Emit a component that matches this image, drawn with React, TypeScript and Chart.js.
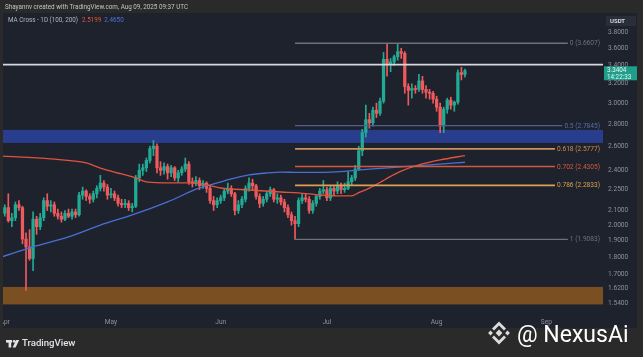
import React, { useEffect, useRef } from "react";
import { Chart, registerables } from "chart.js";
Chart.register(...registerables);

// day index: 0 = Mar 31 2025, 1 = Apr 1 ... 131 = Aug 9
const FIRST_DAY = 1;
const opens = [
  2.08, 2.12, 2.03, 2.05, 2.14, 2.12, 1.91, 1.86, 1.79, 2.04, 1.99, 2.05, 2.17, 2.13, 2.14, 2.08, 2.06, 2.04, 2.08, 2.06, 2.09, 2.07, 2.21, 2.24, 2.20, 2.18, 2.22, 2.26, 2.30, 2.27,
  2.21, 2.22, 2.19, 2.15, 2.14, 2.15, 2.12, 2.13, 2.34, 2.40, 2.42, 2.48, 2.58, 2.60, 2.42, 2.40, 2.43, 2.38, 2.42, 2.34, 2.38, 2.41, 2.45, 2.31, 2.30, 2.32, 2.28, 2.30, 2.26, 2.17,
  2.14, 2.17, 2.19, 2.24, 2.26, 2.22, 2.10, 2.14, 2.18, 2.26, 2.30, 2.28, 2.20, 2.15, 2.18, 2.22, 2.25, 2.18, 2.19, 2.16, 2.12, 2.07, 2.03, 2.01, 2.17, 2.19, 2.18, 2.10, 2.15, 2.20,
  2.24, 2.25, 2.19, 2.26, 2.24, 2.28, 2.25, 2.26, 2.31, 2.34, 2.41, 2.56, 2.72, 2.84, 2.81, 2.93, 2.90, 3.02, 3.47, 3.41, 3.44, 3.50, 3.56, 3.54, 3.17, 3.13, 3.15, 3.14, 3.23, 3.14,
  3.11, 3.10, 3.04, 2.96, 2.78, 2.94, 3.03, 2.98, 3.01, 3.32, 3.30,
];
const highs = [
  2.14, 2.22, 2.08, 2.16, 2.17, 2.13, 1.95, 1.97, 2.09, 2.06, 2.08, 2.19, 2.22, 2.17, 2.16, 2.11, 2.09, 2.10, 2.11, 2.11, 2.11, 2.23, 2.27, 2.25, 2.22, 2.24, 2.28, 2.36, 2.32, 2.29,
  2.26, 2.24, 2.21, 2.18, 2.18, 2.17, 2.15, 2.36, 2.45, 2.45, 2.50, 2.60, 2.65, 2.62, 2.47, 2.46, 2.45, 2.44, 2.43, 2.40, 2.43, 2.50, 2.47, 2.34, 2.35, 2.34, 2.32, 2.31, 2.28, 2.20,
  2.19, 2.21, 2.26, 2.30, 2.28, 2.23, 2.17, 2.20, 2.28, 2.34, 2.33, 2.29, 2.22, 2.20, 2.24, 2.27, 2.26, 2.22, 2.21, 2.18, 2.14, 2.09, 2.06, 2.19, 2.22, 2.22, 2.20, 2.17, 2.21, 2.26,
  2.32, 2.27, 2.28, 2.28, 2.31, 2.30, 2.30, 2.39, 2.36, 2.44, 2.60, 2.75, 2.98, 2.90, 2.96, 3.00, 3.05, 3.55, 3.6607, 3.48, 3.52, 3.65, 3.60, 3.56, 3.20, 3.20, 3.18, 3.30, 3.28, 3.18,
  3.14, 3.12, 3.07, 3.00, 2.96, 3.05, 3.06, 3.02, 3.35, 3.38, 3.36,
];
const lows = [
  2.06, 2.02, 1.99, 2.03, 2.10, 1.88, 1.61, 1.78, 1.72, 1.94, 1.97, 2.03, 2.10, 2.09, 2.06, 2.04, 2.02, 2.03, 2.05, 2.04, 2.05, 2.06, 2.18, 2.17, 2.15, 2.16, 2.19, 2.24, 2.24, 2.18,
  2.19, 2.17, 2.13, 2.12, 2.12, 2.10, 2.09, 2.12, 2.31, 2.36, 2.39, 2.46, 2.52, 2.38, 2.36, 2.37, 2.33, 2.35, 2.32, 2.31, 2.36, 2.39, 2.29, 2.27, 2.28, 2.25, 2.26, 2.23, 2.15, 2.10,
  2.12, 2.15, 2.17, 2.22, 2.20, 2.07, 2.08, 2.12, 2.16, 2.24, 2.25, 2.18, 2.12, 2.13, 2.16, 2.20, 2.16, 2.15, 2.14, 2.09, 2.05, 2.00, 1.9083, 1.99, 2.15, 2.16, 2.08, 2.08, 2.13, 2.18,
  2.22, 2.17, 2.17, 2.21, 2.22, 2.22, 2.23, 2.25, 2.28, 2.32, 2.40, 2.52, 2.68, 2.76, 2.78, 2.86, 2.88, 3.00, 3.28, 3.33, 3.40, 3.46, 3.48, 3.10, 2.98, 3.05, 3.10, 3.12, 3.10, 3.05,
  3.04, 3.00, 2.92, 2.72, 2.72, 2.90, 2.94, 2.92, 2.99, 3.24, 3.27,
];
const closes = [
  2.12, 2.03, 2.05, 2.14, 2.12, 1.91, 1.86, 1.79, 2.04, 1.99, 2.05, 2.17, 2.13, 2.14, 2.08, 2.06, 2.04, 2.08, 2.06, 2.09, 2.07, 2.21, 2.24, 2.20, 2.18, 2.22, 2.26, 2.30, 2.27, 2.21,
  2.22, 2.19, 2.15, 2.14, 2.15, 2.12, 2.13, 2.34, 2.40, 2.42, 2.48, 2.58, 2.60, 2.42, 2.40, 2.43, 2.38, 2.42, 2.34, 2.38, 2.41, 2.45, 2.31, 2.30, 2.32, 2.28, 2.30, 2.26, 2.17, 2.14,
  2.17, 2.19, 2.24, 2.26, 2.22, 2.10, 2.14, 2.18, 2.26, 2.30, 2.28, 2.20, 2.15, 2.18, 2.22, 2.25, 2.18, 2.19, 2.16, 2.12, 2.07, 2.03, 2.01, 2.17, 2.19, 2.18, 2.10, 2.15, 2.20, 2.24,
  2.25, 2.19, 2.26, 2.24, 2.28, 2.25, 2.26, 2.31, 2.34, 2.41, 2.56, 2.72, 2.84, 2.81, 2.93, 2.90, 3.02, 3.47, 3.41, 3.44, 3.50, 3.56, 3.54, 3.17, 3.13, 3.15, 3.14, 3.23, 3.14, 3.11,
  3.10, 3.04, 2.96, 2.78, 2.94, 3.03, 2.98, 3.01, 3.32, 3.30, 3.3404,
];

const maRedDays = [0, 14, 24, 28, 34, 38, 41, 48, 53, 58, 62, 70, 79, 84, 90, 96, 99, 101, 104, 107, 110, 113, 118, 124, 131];
const maRedValues = [2.517, 2.492, 2.459, 2.418, 2.371, 2.34, 2.309, 2.301, 2.301, 2.286, 2.263, 2.248, 2.233, 2.226, 2.211, 2.204, 2.204, 2.228, 2.262, 2.305, 2.352, 2.394, 2.443, 2.484, 2.5199];
const maBlueDays = [0, 9, 19, 28, 37, 47, 56, 61, 65, 70, 75, 79, 84, 93, 104, 113, 121, 131];
const maBlueValues = [1.799, 1.861, 1.923, 2.001, 2.069, 2.161, 2.263, 2.301, 2.332, 2.363, 2.379, 2.386, 2.383, 2.386, 2.41, 2.427, 2.443, 2.465];

const monthTickDays = [1, 31, 62, 92, 123, 154];
const monthTickLabels = ["Apr", "May", "Jun", "Jul", "Aug", "Sep"];
const priceTicks = [3.8, 3.6, 3.4, 3.2, 3.0, 2.8, 2.6, 2.4, 2.25, 2.1, 2.0, 1.9, 1.8, 1.7, 1.62, 1.54];

const fibStartDay = 83;
const fibLevels = ["0", "0.5", "0.618", "0.702", "0.786", "1"];
const fibPrices = [3.6607, 2.7845, 2.5777, 2.4305, 2.2833, 1.9083];
const fibColors = ["#6e717a", "#4f5f8f", "#c8935e", "#cf5a3f", "#dda052", "#6e717a"];
const fibLabelColors = ["#6e717a", "#5a6ea8", "#d48c4a", "#d65a3c", "#dca04e", "#6e717a"];

const resistancePrice = 3.41;
const blueZone = [2.628, 2.745];
const orangeZone = [1.537, 1.629];
const lastPrice = 3.3404;
const countdown = "14:22:33";

const UP = "#22ab94";
const DOWN = "#ef5a5c";
const FONT = "Roboto, 'Noto Sans', sans-serif";

export default function App() {
  const ref = useRef<HTMLCanvasElement | null>(null);
  useEffect(() => {
    const canvas = ref.current!;
    const colors = closes.map((c, i) => (c >= opens[i] ? UP : DOWN));

    const tvPlugin = {
      id: "tvdecor",
      beforeDraw(chart: any) {
        const ctx = chart.ctx;
        ctx.save();
        ctx.fillStyle = "#2a2a2b";
        ctx.fillRect(0, 0, 643, 357);
        ctx.fillStyle = "#1e222d";
        ctx.fillRect(3, 13, 634, 315);
        ctx.restore();
      },
      beforeDatasetsDraw(chart: any) {
        const { ctx, chartArea, scales } = chart;
        const y = scales.y;
        ctx.save();
        const zone = (z: number[], col: string) => {
          const t = y.getPixelForValue(z[1]);
          const b = y.getPixelForValue(z[0]);
          ctx.fillStyle = col;
          ctx.fillRect(chartArea.left, t, chartArea.right - chartArea.left, b - t);
        };
        zone(blueZone, "#283d8b");
        zone(orangeZone, "#7a4f22");
        ctx.restore();
      },
      afterDatasetsDraw(chart: any) {
        const { ctx, chartArea, scales } = chart;
        const x = scales.x, y = scales.y;
        ctx.save();
        const ry = y.getPixelForValue(resistancePrice);
        ctx.strokeStyle = "#d6d8dd";
        ctx.lineWidth = 1.6;
        ctx.beginPath();
        ctx.moveTo(chartArea.left, ry);
        ctx.lineTo(chartArea.right, ry);
        ctx.stroke();
        ctx.font = `6.6px ${FONT}`;
        ctx.textBaseline = "middle";
        ctx.textAlign = "left";
        const x0 = x.getPixelForValue(fibStartDay);
        fibPrices.forEach((p, i) => {
          const py = y.getPixelForValue(p);
          const label = `${fibLevels[i]} (${p.toFixed(4)})`;
          const w = ctx.measureText(label).width;
          const lx = 600 - w;
          ctx.strokeStyle = fibColors[i];
          ctx.lineWidth = i === 0 || i === 5 || i === 1 ? 1.3 : 1.7;
          ctx.beginPath();
          ctx.moveTo(x0, py);
          ctx.lineTo(lx - 2, py);
          ctx.stroke();
          ctx.fillStyle = fibLabelColors[i];
          ctx.fillText(label, lx, py + 0.5);
        });
        ctx.restore();
      },
      afterDraw(chart: any) {
        const { ctx, scales } = chart;
        const y = scales.y;
        ctx.save();
        ctx.fillStyle = "#2a2a2b";
        ctx.fillRect(0, 13, 3, 315);
        ctx.textBaseline = "middle";
        ctx.textAlign = "left";
        ctx.font = `6.3px ${FONT}`;
        ctx.fillStyle = "#c4c4c6";
        ctx.fillText("Shayannv created with TradingView.com, Aug 09, 2025 09:37 UTC", 5, 7);
        ctx.font = `6.3px ${FONT}`;
        ctx.fillStyle = "#b3b6be";
        const lg = "MA Cross - 1D (100, 200)";
        ctx.fillText(lg, 8, 20);
        let lx = 8 + ctx.measureText(lg).width + 4;
        ctx.fillStyle = "#e5533c";
        ctx.fillText(maRedValues[maRedValues.length - 1].toFixed(4), lx, 20);
        lx += ctx.measureText("2.5199").width + 3;
        ctx.fillStyle = "#4d72d9";
        ctx.fillText(maBlueValues[maBlueValues.length - 1].toFixed(4), lx, 20);
        ctx.fillStyle = "#2a2e39";
        ctx.fillRect(606, 16, 30, 10);
        ctx.fillStyle = "#d1d4dc";
        ctx.font = `bold 6px ${FONT}`;
        ctx.fillText("USDT", 610, 21);
        const py = y.getPixelForValue(lastPrice);
        ctx.fillStyle = "#1f9e8a";
        ctx.fillRect(604, py - 4.5, 33, 14);
        ctx.fillStyle = "#e8f6f3";
        ctx.font = `6.3px ${FONT}`;
        ctx.fillText(lastPrice.toFixed(4), 607, py);
        ctx.fillText(countdown, 607, py + 6.3);
        ctx.fillStyle = "#e1e3e8";
        ctx.fillRect(6, 340, 6, 2.6);
        ctx.fillRect(8.6, 340, 2.6, 7.5);
        ctx.beginPath();
        ctx.arc(14.2, 341.3, 1.4, 0, Math.PI * 2);
        ctx.fill();
        ctx.beginPath();
        ctx.moveTo(16.2, 340);
        ctx.lineTo(19.2, 340);
        ctx.lineTo(15.6, 347.5);
        ctx.lineTo(12.6, 347.5);
        ctx.closePath();
        ctx.fill();
        ctx.font = `500 9.6px ${FONT}`;
        ctx.fillText("TradingView", 22, 344);
        ctx.fillStyle = "rgba(235,235,235,0.92)";
        const cx = 499, cy = 333;
        const dia = (ux: number, uy: number, r: number) => {
          ctx.beginPath();
          ctx.moveTo(ux, uy - r);
          ctx.lineTo(ux + r, uy);
          ctx.lineTo(ux, uy + r);
          ctx.lineTo(ux - r, uy);
          ctx.closePath();
          ctx.fill();
        };
        dia(cx, cy, 3.4);
        dia(cx - 8.5, cy, 2.4);
        dia(cx + 8.5, cy, 2.4);
        const chev = (dir: number) => {
          ctx.beginPath();
          ctx.moveTo(cx - 7, cy + dir * 4.5);
          ctx.lineTo(cx, cy + dir * 11.5);
          ctx.lineTo(cx + 7, cy + dir * 4.5);
          ctx.lineTo(cx + 5, cy + dir * 2.5);
          ctx.lineTo(cx, cy + dir * 7.5);
          ctx.lineTo(cx - 5, cy + dir * 2.5);
          ctx.closePath();
          ctx.fill();
        };
        chev(-1);
        chev(1);
        ctx.fillStyle = "#ffffff";
        ctx.font = `23px ${FONT}`;
        ctx.textBaseline = "alphabetic";
        ctx.fillText("@ NexusAi", 517, 342);
        ctx.restore();
      },
    };

    const chart = new Chart(canvas, {
      type: "bar",
      data: {
        datasets: [
          {
            type: "line",
            data: maRedDays.map((d, i) => ({ x: d, y: maRedValues[i] })),
            borderColor: "#e0533d",
            borderWidth: 1.3,
            pointRadius: 0,
            cubicInterpolationMode: "monotone",
            order: 0,
          } as any,
          {
            type: "line",
            data: maBlueDays.map((d, i) => ({ x: d, y: maBlueValues[i] })),
            borderColor: "#4a6fd4",
            borderWidth: 1.3,
            pointRadius: 0,
            cubicInterpolationMode: "monotone",
            order: 0,
          } as any,
          {
            type: "bar",
            data: closes.map((c, i) => ({ x: i + FIRST_DAY, y: [Math.min(opens[i], c), Math.max(opens[i], c)] })),
            backgroundColor: colors,
            barThickness: 2.6,
            minBarLength: 1,
            grouped: false,
            borderWidth: 0,
            order: 1,
          } as any,
          {
            type: "bar",
            data: closes.map((c, i) => ({ x: i + FIRST_DAY, y: [lows[i], highs[i]] })),
            backgroundColor: colors,
            barThickness: 1,
            grouped: false,
            borderWidth: 0,
            order: 2,
          } as any,
        ],
      },
      options: {
        animation: false,
        responsive: false,
        devicePixelRatio: 1,
        layout: { padding: { left: 3, right: 6, top: 14, bottom: 29 } },
        plugins: { legend: { display: false }, tooltip: { enabled: false } },
        scales: {
          x: {
            type: "linear",
            offset: false,
            min: 0.5,
            max: 170,
            bounds: "data",
            grid: { display: false, drawTicks: false, offset: false },
            border: { display: false },
            ticks: {
              autoSkip: false,
              maxRotation: 0,
              padding: 2,
              color: "#8f929b",
              font: { family: FONT, size: 6.6 },
              callback: (v: any) => {
                const k = monthTickDays.indexOf(Number(v));
                return k >= 0 ? monthTickLabels[k] : "";
              },
            },
            afterBuildTicks: (s: any) => {
              s.ticks = monthTickDays.map((v) => ({ value: v }));
            },
            afterFit: (s: any) => {
              s.height = 12;
              s.paddingLeft = 0;
              s.paddingRight = 0;
            },
          },
          y: {
            type: "logarithmic",
            position: "right",
            min: 1.479,
            max: 4.034,
            bounds: "data",
            grid: { display: false, drawTicks: false },
            border: { display: false },
            ticks: {
              autoSkip: false,
              padding: 5,
              color: "#8f929b",
              font: { family: FONT, size: 6.6 },
              callback: (v: any) => Number(v).toFixed(4),
            },
            afterBuildTicks: (s: any) => {
              s.ticks = priceTicks.map((v) => ({ value: v }));
            },
            afterFit: (s: any) => {
              s.width = 34;
              s.paddingTop = 0;
              s.paddingBottom = 0;
            },
          },
        },
      } as any,
      plugins: [tvPlugin],
    });
    return () => chart.destroy();
  }, []);

  return (
    <div style={{ position: "fixed", left: 0, top: 0, width: 643, height: 357, background: "#2a2a2b" }}>
      <canvas ref={ref} width={643} height={357} style={{ display: "block", width: 643, height: 357 }} />
    </div>
  );
}
